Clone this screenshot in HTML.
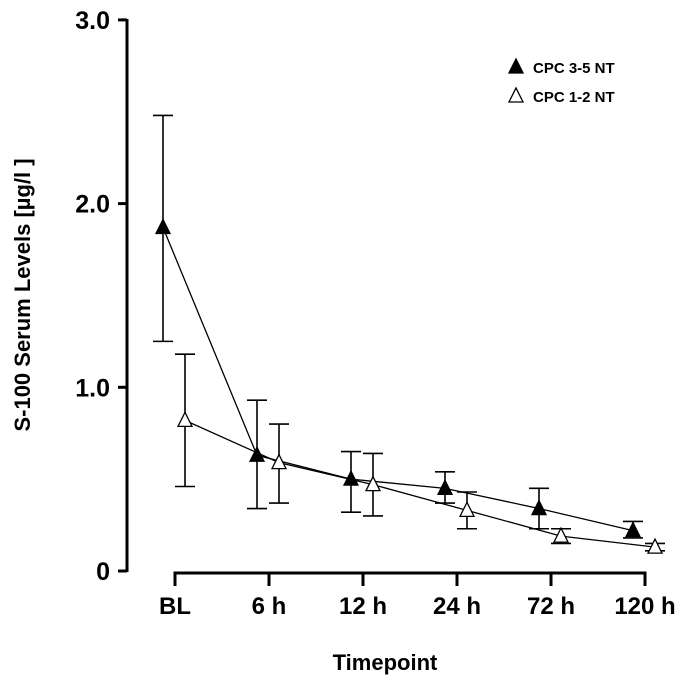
<!DOCTYPE html>
<html><head><meta charset="utf-8"><style>
body{margin:0;background:#fff}
svg text{font-family:"Liberation Sans",Arial,sans-serif;font-weight:bold;fill:#000}
</style></head><body>
<svg id="chart" width="685" height="686" viewBox="0 0 685 686" xmlns="http://www.w3.org/2000/svg"></svg>
<script>
const categories=["BL","6 h","12 h","24 h","72 h","120 h"];
const yTicks=[0,1,2,3];
const yTickLabels=["0","1.0","2.0","3.0"];
const severeMean=[1.87,0.63,0.50,0.45,0.34,0.22];
const severeLow=[1.25,0.34,0.32,0.37,0.23,0.18];
const severeHigh=[2.48,0.93,0.65,0.54,0.45,0.27];
const mildMean=[0.82,0.59,0.47,0.33,0.19,0.13];
const mildLow=[0.46,0.37,0.30,0.23,0.15,0.11];
const mildHigh=[1.18,0.80,0.64,0.43,0.23,0.15];
const svg=document.getElementById('chart');
const NS='http://www.w3.org/2000/svg';
const y=v=>571-v*183.7;
const xc=i=>175+i*94;
function mk(tag,attrs,parent){const e=document.createElementNS(NS,tag);for(const k in attrs)e.setAttribute(k,attrs[k]);(parent||svg).appendChild(e);return e;}
// y axis
let ya=mk('line',{x1:127,y1:19,x2:127,y2:572,stroke:'#000','stroke-width':3});


yTicks.forEach((v,i)=>{
  let t=mk('line',{x1:118,y1:y(v),x2:127,y2:y(v),stroke:'#000','stroke-width':3});
  
  
  let l=mk('text',{x:110,y:y(v)+9,'text-anchor':'end','font-size':25});
  l.textContent=yTickLabels[i];
  
  
});
// x axis
let xa=mk('line',{x1:xc(0)-1.5,y1:573,x2:xc(categories.length-1)+1.5,y2:573,stroke:'#000','stroke-width':3});


categories.forEach((c,i)=>{
  let t=mk('line',{x1:xc(i),y1:573,x2:xc(i),y2:586,stroke:'#000','stroke-width':3});
  
  
  let l=mk('text',{x:xc(i),y:614,'text-anchor':'middle','font-size':24});
  l.textContent=c;
  
  
});
let xt=mk('text',{x:385,y:670,'text-anchor':'middle','font-size':22});
xt.textContent='Timepoint';


let yt=mk('text',{x:0,y:0,'text-anchor':'middle','font-size':22,transform:'translate(30,295) rotate(-90)'});
yt.textContent='S-100 Serum Levels [µg/l ]';


function tri(cx,cy,filled,name){
  let p=mk('polygon',{points:`${cx-7},${cy+6} ${cx+7},${cy+6} ${cx},${cy-8}`,fill:filled?'#000':'#fff',stroke:'#000','stroke-width':1.3});
  
  
}
function series(mean,lo,hi,off,filled,name){
  const pts=mean.map((v,i)=>`${xc(i)+off},${y(v)}`).join(' ');
  let pl=mk('polyline',{points:pts,fill:'none',stroke:'#000','stroke-width':1.3});
  
  
  mean.forEach((v,i)=>{
    const x=xc(i)+off;
    let g=mk('path',{d:`M${x},${y(lo[i])}V${y(hi[i])}M${x-10},${y(lo[i])}h20M${x-10},${y(hi[i])}h20`,stroke:'#000','stroke-width':1.6,fill:'none'});
    
    
  });
  mean.forEach((v,i)=>tri(xc(i)+off,y(v),filled,name+'-point'));
}
series(severeMean,severeLow,severeHigh,-12,true,'cpc-3-5');
series(mildMean,mildLow,mildHigh,10,false,'cpc-1-2');
// legend
tri(516,67,true,'legend-marker-cpc-3-5');
let l1=mk('text',{x:533,y:73,'font-size':15});l1.textContent='CPC 3-5 NT';


tri(516,96,false,'legend-marker-cpc-1-2');
let l2=mk('text',{x:533,y:102,'font-size':15});l2.textContent='CPC 1-2 NT';


</script>
</body></html>
